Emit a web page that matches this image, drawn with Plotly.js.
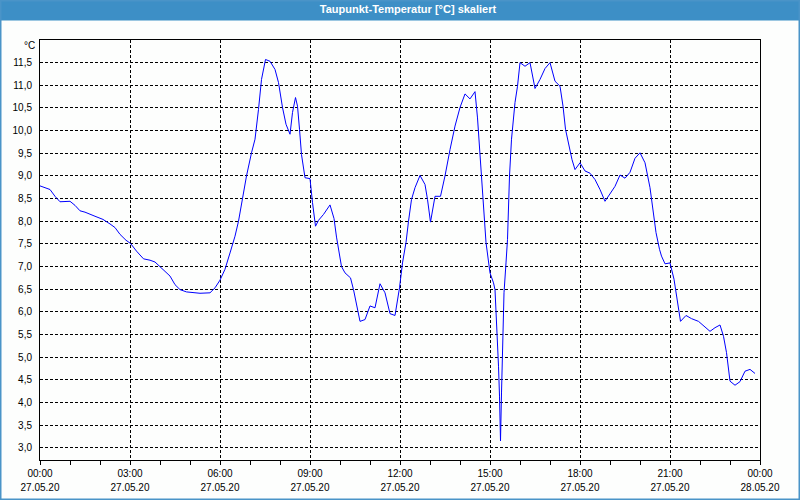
<!DOCTYPE html>
<html>
<head>
<meta charset="utf-8">
<script src="https://cdn.plot.ly/plotly-3.0.1.min.js"></script>
<style>
html,body{margin:0;padding:0;background:#fdfefd;}
#chart{width:800px;height:500px;}
</style>
</head>
<body>
<div id="chart"></div>
<script>
var titleText = "Taupunkt-Temperatur [°C] skaliert";
var unitLabel = "°C";
var day = "2020-05-27";
var times = [
"00:00","00:20","00:30","00:40","01:00","01:10","01:20","01:30","01:50","02:06",
"02:20","02:30","02:40","02:52","03:01","03:13","03:27","03:40","03:50","04:03",
"04:20","04:30","04:40","04:53","05:20","05:40","05:50","06:00","06:10","06:20",
"06:30","06:37","06:43","06:53","07:03","07:10","07:17","07:23","07:31","07:40",
"07:50","07:57","08:05","08:12","08:20","08:25","08:31","08:35","08:39","08:43",
"08:50","09:00","09:05","09:11","09:17","09:27","09:40","09:48","09:53","09:59",
"10:03","10:10","10:21","10:27","10:33","10:40","10:50","11:00","11:10","11:20",
"11:30","11:40","11:50","11:59","12:05","12:12","12:17","12:23","12:30","12:40",
"12:50","12:55","13:01","13:10","13:21","13:30","13:40","13:50","14:00","14:10",
"14:20","14:30","14:35","14:40","14:45","14:52","15:00","15:07","15:10","15:15",
"15:17","15:19","15:21","15:23","15:25","15:28","15:32","15:35","15:39","15:43",
"15:50","15:55","16:00","16:10","16:20","16:30","16:40","16:50","17:00","17:10",
"17:20","17:26","17:31","17:38","17:44","17:50","18:00","18:10","18:20","18:30",
"18:40","18:50","19:00","19:10","19:20","19:30","19:40","19:50","20:00","20:10",
"20:20","20:27","20:32","20:39","20:43","20:50","21:00","21:08","21:15","21:21",
"21:32","21:43","21:57","22:10","22:20","22:30","22:40","22:47","22:53","23:00",
"23:10","23:20","23:30","23:40","23:50"
];
var dewpoint = [
8.78,8.70,8.55,8.43,8.44,8.35,8.23,8.20,8.11,8.04,
7.94,7.86,7.71,7.58,7.51,7.34,7.17,7.14,7.10,6.97,
6.79,6.60,6.49,6.44,6.41,6.42,6.53,6.70,6.94,7.30,
7.67,8.00,8.41,9.00,9.51,9.81,10.47,11.13,11.57,11.53,
11.35,11.06,10.51,10.14,9.92,10.40,10.73,10.54,10.03,9.47,
8.96,8.94,8.41,7.89,8.02,8.15,8.36,8.06,7.65,7.20,
7.00,6.86,6.75,6.49,6.20,5.79,5.83,6.13,6.09,6.62,
6.42,5.96,5.92,6.53,7.08,7.53,8.00,8.48,8.74,9.01,
8.81,8.48,7.98,8.55,8.55,9.00,9.58,10.10,10.51,10.81,
10.70,10.86,10.28,9.44,8.48,7.53,6.86,6.64,6.49,5.46,
4.80,4.14,3.15,4.21,4.95,6.42,7.08,7.60,9.00,9.81,
10.62,10.98,11.50,11.42,11.50,10.93,11.13,11.37,11.50,11.09,
10.98,10.54,10.03,9.64,9.36,9.14,9.29,9.11,9.06,8.92,
8.70,8.44,8.62,8.77,9.02,8.95,9.08,9.39,9.51,9.29,
8.74,8.19,7.75,7.38,7.23,7.06,7.08,6.72,6.27,5.79,
5.92,5.85,5.79,5.67,5.57,5.65,5.71,5.46,5.10,4.47,
4.38,4.46,4.69,4.73,4.64
];
var yTicks = [3.0,3.5,4.0,4.5,5.0,5.5,6.0,6.5,7.0,7.5,8.0,8.5,9.0,9.5,10.0,10.5,11.0,11.5];
var xRange = ["2020-05-27 00:00", "2020-05-28 00:00"];

var xs = times.map(function(t){ return day + " " + t; });

var font = "'Liberation Sans', Arial, sans-serif";
var tickFont = {family: font, size: 10, color: "#000"};
var trace = {
  x: xs, y: dewpoint, type: "scatter", mode: "lines",
  line: {color: "#0000ff", width: 1, shape: "linear"},
  hoverinfo: "skip"
};
// invisible companion trace so the date-label axis (x2) is drawn
var dateAxisTrace = {
  x: xs, y: dewpoint, xaxis: "x2", yaxis: "y", type: "scatter", mode: "lines",
  line: {color: "rgba(0,0,0,0)", width: 0}, hoverinfo: "skip", showlegend: false
};

var layout = {
  width: 800, height: 500,
  margin: {l: 40, r: 40, t: 40, b: 40, pad: 0},
  paper_bgcolor: "#fdfefd",
  plot_bgcolor: "#fdfefd",
  separators: ",.",
  showlegend: false,
  title: {
    text: "<b>" + titleText + "</b>",
    font: {family: font, size: 11, color: "#ffffff"},
    x: (408 - 40) / 720, xanchor: "center", xref: "paper",
    y: 1 - 9.5/500, yref: "container", yanchor: "middle"
  },
  xaxis: {
    type: "date",
    range: xRange,
    tick0: xRange[0],
    dtick: 3*3600000,
    tickformat: "%H:%M",
    ticks: "outside", ticklen: 4, tickcolor: "#000",
    showgrid: true, gridcolor: "#000", griddash: "3px,2px", gridwidth: 1,
    showline: true, linecolor: "#000", linewidth: 1, mirror: true,
    zeroline: false,
    tickfont: tickFont,
    minor: {dtick: 3600000, ticks: "outside", ticklen: 4, tickcolor: "#000", showgrid: false},
    fixedrange: true
  },
  xaxis2: {
    type: "date",
    overlaying: "x", anchor: "y", side: "bottom",
    range: xRange,
    tick0: xRange[0],
    dtick: 3*3600000,
    tickformat: "%d.%m.%y",
    ticks: "", showgrid: false, showline: false, zeroline: false,
    tickfont: tickFont,
    ticklabelstandoff: 20,
    fixedrange: true
  },
  yaxis: {
    range: [2.73, 12.0],
    tickmode: "array",
    tickvals: yTicks,
    tickformat: ".1f",
    ticks: "", ticklen: 0,
    showgrid: true, gridcolor: "#000", griddash: "3px,2px", gridwidth: 1,
    showline: true, linecolor: "#000", linewidth: 1, mirror: true,
    zeroline: false,
    tickfont: tickFont,
    ticklabelstandoff: 5,
    fixedrange: true
  },
  shapes: [
    {type: "rect", xref: "paper", yref: "paper",
     x0: -40/720, x1: 1 + 40/720, y0: 1 + 19.5/420, y1: 1 + 40/420,
     fillcolor: "#3d8fc6", line: {width: 0}, layer: "below"},
    {type: "rect", xref: "paper", yref: "paper",
     x0: (0.75-40)/720, x1: (799.25-40)/720, y0: 1 - (499.25-40)/420, y1: 1 + (40-0.75)/420,
     fillcolor: "rgba(0,0,0,0)", line: {width: 1.5, color: "#4a94c8"}, layer: "above"}
  ],
  annotations: [
    {text: unitLabel, xref: "paper", yref: "paper", x: 0, y: 1, xanchor: "right", yanchor: "middle",
     xshift: -3, yshift: -5, showarrow: false, font: tickFont}
  ]
};

Plotly.newPlot("chart", [dateAxisTrace, trace], layout, {staticPlot: true, displayModeBar: false});
</script>
</body>
</html>
